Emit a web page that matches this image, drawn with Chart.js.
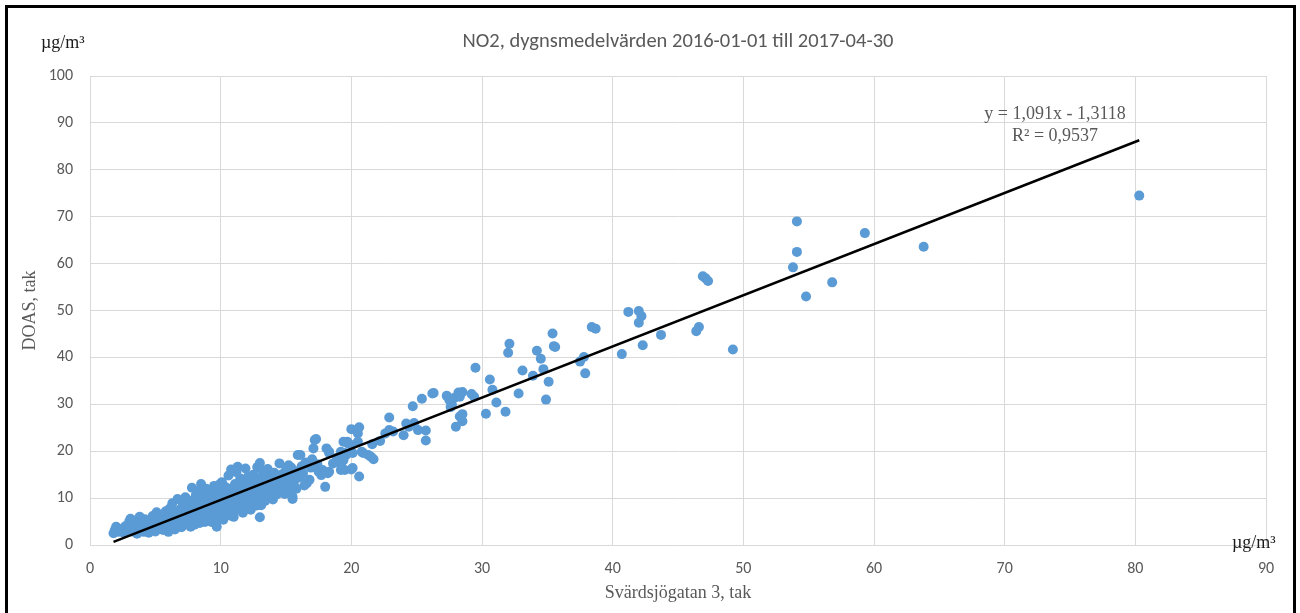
<!DOCTYPE html>
<html>
<head>
<meta charset="utf-8">
<script src="https://cdn.jsdelivr.net/npm/chart.js@4.4.1/dist/chart.umd.min.js"></script>
<style>
  html, body { margin: 0; padding: 0; background: #fff; overflow: hidden; }
  #frame { position: absolute; left: 5px; top: 5px; width: 1285px; height: 700px; border: 3px solid #000; }
  #wrap { position: absolute; left: 0; top: 0; width: 1300px; height: 613px; }
</style>
</head>
<body>
<div id="frame"></div>
<div id="wrap"><canvas id="chart" width="1300" height="613"></canvas></div>
<script>
// Dagsmedelvärden NO2: [Svärdsjögatan 3 tak, DOAS tak] (µg/m³)
const lowDays = [
  [1.9, 3.2], [1.8, 2.5], [2.0, 3.9], [2.2, 2.8], [2.4, 3.4], [2.6, 2.6], [2.7, 4.0], [2.9, 3.1],
  [3.0, 5.0], [3.1, 5.6], [3.2, 2.9], [3.3, 4.4], [3.4, 3.6], [3.5, 5.2], [3.6, 2.4],
  [3.7, 4.8], [3.8, 6.0], [3.9, 3.2], [4.0, 4.2], [4.1, 2.8], [4.2, 5.5], [4.3, 3.8], [4.4, 4.6],
  [4.5, 2.6], [4.6, 5.0], [4.7, 3.4], [4.8, 6.2], [4.9, 4.0], [5.0, 5.4], [5.0, 2.9], [5.1, 7.0],
  [5.2, 4.5], [5.3, 3.6], [5.4, 6.1], [5.5, 4.9], [5.6, 3.2], [5.7, 5.8], [5.8, 7.2], [5.9, 4.3],
  [6.0, 2.8], [6.0, 5.1], [6.1, 7.8], [6.1, 3.9], [6.2, 6.4], [6.3, 4.6], [6.3, 8.9], [6.4, 5.6],
  [6.5, 3.3], [6.5, 7.1], [6.6, 6.0], [6.7, 4.2], [6.7, 9.8], [6.8, 5.3], [6.9, 7.6], [6.9, 4.8],
  [7.0, 6.7], [7.0, 3.8], [7.1, 8.4], [7.2, 5.9], [7.2, 4.4], [7.3, 7.3], [7.3, 10.2], [7.4, 6.2],
  [7.5, 4.9], [7.5, 8.8], [7.6, 5.4], [7.6, 7.0], [7.7, 3.9], [7.7, 9.4], [7.8, 6.6], [7.8, 12.2],
  [7.9, 5.0], [7.9, 8.1], [8.0, 7.4], [8.0, 4.3], [8.1, 10.6], [8.1, 6.1], [8.2, 5.3], [8.2, 8.7],
  [8.3, 11.5], [8.3, 7.0], [8.4, 4.7], [8.4, 9.6], [8.5, 6.4], [8.5, 13.0], [8.6, 8.0], [8.6, 5.6],
  [8.7, 10.9], [8.7, 7.3], [8.8, 4.9], [8.8, 9.1], [8.9, 6.8], [8.9, 12.0], [9.0, 8.5], [9.0, 5.8]
];

const midDays = [
  [9.1, 10.4], [9.1, 7.2], [9.2, 6.1], [9.2, 11.8], [9.3, 8.8], [9.3, 4.9], [9.4, 9.7], [9.4, 7.6],
  [9.5, 12.6], [9.5, 6.5], [9.6, 8.3], [9.6, 10.9], [9.7, 5.6], [9.7, 3.9], [9.8, 9.3], [9.8, 7.0],
  [9.9, 12.9], [9.9, 11.0], [10.0, 8.1], [10.0, 6.2], [10.0, 10.2], [10.1, 13.4], [10.1, 7.5],
  [10.2, 9.0], [10.2, 5.4], [10.3, 11.7], [10.3, 8.6], [10.4, 6.8], [10.4, 12.3], [10.5, 9.9],
  [10.5, 7.9], [10.6, 14.8], [10.6, 10.7], [10.7, 6.3], [10.7, 8.9], [10.8, 16.1], [10.8, 12.0],
  [10.9, 9.4], [10.9, 7.1], [11.0, 11.3], [11.0, 6.0], [11.1, 13.0], [11.1, 8.4], [11.2, 10.1],
  [11.2, 15.5], [11.3, 16.7], [11.3, 9.0], [11.4, 12.4], [11.4, 7.6], [11.5, 11.0], [11.5, 14.2],
  [11.6, 8.8], [11.6, 10.5], [11.7, 13.6], [11.7, 6.9],
  [11.8, 12.1], [11.8, 9.6], [11.9, 16.3], [11.9, 11.2], [12.0, 8.2], [12.0, 13.3], [12.1, 10.4],
  [12.1, 14.6], [12.2, 9.3], [12.2, 11.9], [12.3, 7.5], [12.3, 12.8], [12.4, 10.8], [12.5, 15.0],
  [12.5, 9.1], [12.6, 13.8], [12.6, 11.5], [12.7, 8.4], [12.8, 16.6], [12.8, 12.3], [12.9, 10.0],
  [12.9, 14.1], [13.0, 17.5], [13.0, 5.9], [13.0, 11.7], [13.1, 8.5], [13.1, 13.0], [13.2, 15.8],
  [13.2, 10.6], [13.3, 12.6], [13.4, 9.4], [13.4, 14.6], [13.5, 11.2], [13.6, 13.7], [13.6, 16.2],
  [13.7, 10.3], [13.8, 12.0], [13.8, 14.9], [13.9, 11.0], [14.0, 13.3], [14.0, 9.7], [14.1, 15.4],
  [14.2, 12.4], [14.3, 10.8], [14.4, 14.0],
  [14.5, 17.4], [14.5, 12.9], [14.6, 11.5], [14.7, 15.1], [14.8, 13.6], [14.9, 10.9], [15.0, 16.0],
  [15.0, 12.4], [15.1, 14.2], [15.2, 17.0], [15.3, 14.6], [15.3, 11.8], [15.4, 16.5], [15.5, 9.8],
  [15.5, 10.3], [15.6, 13.3], [15.7, 15.7], [15.8, 12.0], [15.9, 19.2], [16.0, 14.4], [16.1, 14.6],
  [16.1, 19.2], [16.2, 16.8], [16.3, 15.3], [16.4, 12.7], [16.5, 17.6], [16.6, 13.2], [16.8, 13.9],
  [16.9, 16.5], [17.0, 18.3], [17.1, 20.6], [17.2, 22.4], [17.3, 22.6], [17.4, 17.2], [17.5, 15.6],
  [17.7, 14.9], [17.8, 16.0], [18.0, 12.4], [18.1, 20.6], [18.2, 15.3], [18.3, 19.9], [18.3, 19.6],
  [18.3, 15.6], [18.6, 17.4], [18.9, 18.6]
];

const highDays = [
  [19.2, 19.9], [19.2, 17.1], [19.2, 16.0], [19.4, 22.0], [19.4, 18.1], [19.5, 19.6], [19.5, 16.0],
  [19.6, 19.2], [19.7, 21.7], [19.7, 22.0], [20.0, 21.3], [20.0, 24.7], [20.0, 16.1], [20.1, 19.6],
  [20.1, 16.4], [20.5, 22.0], [20.5, 23.8], [20.6, 25.1], [20.6, 14.6], [20.8, 19.9], [20.9, 19.6],
  [21.3, 19.2], [21.5, 18.8], [21.7, 18.3], [21.6, 21.5], [22.2, 22.2], [22.6, 23.8], [22.9, 24.5],
  [22.9, 27.2], [23.2, 24.2], [24.0, 23.4], [24.2, 25.9], [24.4, 25.2], [24.7, 29.6], [24.8, 26.0],
  [25.1, 24.5], [25.4, 31.2], [25.7, 24.4], [25.7, 22.3],
  [26.2, 32.3], [26.3, 32.4], [27.3, 31.8], [27.5, 30.9], [27.6, 29.4], [27.7, 29.9], [27.9, 31.4],
  [28.0, 25.2], [28.2, 32.5], [28.3, 31.6], [28.3, 27.4], [28.5, 32.6], [28.5, 27.9], [28.5, 26.4],
  [29.2, 32.2], [29.4, 31.6], [29.5, 37.8], [30.3, 28.0], [30.6, 35.3], [30.8, 33.1], [31.1, 30.4],
  [31.8, 28.4], [32.0, 41.0], [32.1, 42.9], [32.8, 32.3], [33.1, 37.2], [33.9, 36.1], [34.2, 41.4],
  [34.5, 39.7], [34.7, 37.5], [34.9, 31.0], [35.1, 34.8], [35.4, 45.1], [35.5, 42.4], [35.6, 42.2],
  [37.5, 39.1], [37.8, 40.1], [37.9, 36.6], [38.4, 46.5], [38.7, 46.1], [40.7, 40.7], [41.2, 49.7],
  [42.0, 49.9], [42.2, 48.8], [42.0, 47.4], [42.3, 42.6], [43.7, 44.8], [46.4, 45.6], [46.6, 46.5],
  [46.9, 57.3], [47.1, 56.9], [47.3, 56.3], [49.2, 41.7], [53.8, 59.2], [54.1, 62.5], [54.1, 69.0],
  [54.8, 53.0], [56.8, 56.0], [59.3, 66.5], [63.8, 63.6], [80.3, 74.5]
];

// Linjär trendlinje enligt diagrammet
const TREND_SLOPE = 1.091;
const TREND_INTERCEPT = -1.3118;
const trendText = ["y = 1,091x - 1,3118", "R² = 0,9537"];

const xTicks = { min: 0, max: 90, step: 10 };
const yTicks = { min: 0, max: 100, step: 10 };

const GREY = "#595959";
const GRID = "#d9d9d9";
const SANS = "Carlito, Lato, 'Open Sans', sans-serif";
const SERIF = "'Liberation Serif', 'DejaVu Serif', serif";

const allDays = lowDays.concat(midDays, highDays);
const scatterData = allDays.map(([x, y]) => ({ x, y }));
const xs = allDays.map((p) => p[0]);
const minX = Math.min(...xs);
const maxX = Math.max(...xs);
const trendData = [minX, maxX].map((x) => ({ x, y: TREND_SLOPE * x + TREND_INTERCEPT }));

// units + trend equation
const extraText = {
  id: "extraText",
  afterDraw(chart) {
    const ctx = chart.ctx;
    ctx.save();
    ctx.textBaseline = "middle";
    ctx.fillStyle = "#1a1a1a";
    ctx.font = "18px " + SERIF;
    ctx.textAlign = "left";
    ctx.fillText("µg/m³", 41, 43);
    ctx.fillText("µg/m³", 1232, 543);

    ctx.fillStyle = GREY;
    ctx.textAlign = "center";
    ctx.fillText(trendText[0], 1055, 114);
    ctx.fillText(trendText[1], 1055, 136);
    ctx.restore();
  },
};

new Chart(document.getElementById("chart"), {
  type: "scatter",
  data: {
    datasets: [
      {
        label: "NO2",
        data: scatterData,
        backgroundColor: "#5b9bd5",
        borderWidth: 0,
        pointRadius: 5,
        order: 2,
      },
      {
        type: "line",
        label: "Linjär",
        data: trendData,
        borderColor: "#000",
        borderWidth: 2.5,
        pointRadius: 0,
        fill: false,
        order: 1,
      },
    ],
  },
  options: {
    responsive: false,
    animation: false,
    devicePixelRatio: 1,
    layout: { padding: { left: 0, right: 34, top: 0, bottom: 0 } },
    plugins: {
      legend: { display: false },
      tooltip: { enabled: false },
      title: {
        display: true,
        fullSize: false,
        text: "NO2, dygnsmedelvärden 2016-01-01 till 2017-04-30",
        color: GREY,
        font: { family: SANS, size: 20.5, weight: "normal", lineHeight: 1.2 },
        padding: { top: 29.7, bottom: 21.7 },
      },
    },
    scales: {
      x: {
        type: "linear",
        min: xTicks.min,
        max: xTicks.max,
        afterFit: (scale) => { scale.height = 68; },
        ticks: { stepSize: xTicks.step, color: GREY, font: { family: SANS, size: 16 }, padding: 14 },
        grid: { color: GRID, lineWidth: 1, drawTicks: false },
        border: { color: GRID, width: 1 },
        title: {
          display: true,
          text: "Svärdsjögatan 3, tak",
          color: GREY,
          font: { family: SERIF, size: 18, lineHeight: 1.2 },
          padding: { top: 0, bottom: 9.2 },
        },
      },
      y: {
        type: "linear",
        min: yTicks.min,
        max: yTicks.max,
        afterFit: (scale) => { scale.width = 90; },
        ticks: { stepSize: yTicks.step, color: GREY, font: { family: SANS, size: 16 }, padding: 17 },
        grid: { color: GRID, lineWidth: 1, drawTicks: false },
        border: { color: GRID, width: 1 },
        title: {
          display: true,
          text: "DOAS, tak",
          color: GREY,
          font: { family: SERIF, size: 18, lineHeight: 1.2 },
          padding: { top: 19.2, bottom: 0 },
        },
      },
    },
  },
  plugins: [extraText],
});
</script>
</body>
</html>
